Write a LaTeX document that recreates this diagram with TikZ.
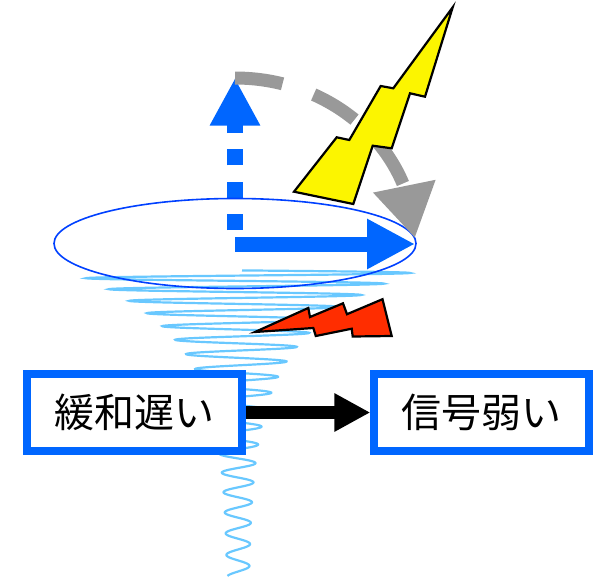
\documentclass[tikz,border=0pt]{standalone}
\usepackage{fontspec}
\setmainfont{Noto Sans CJK JP}
\usepackage{tikz}
\usetikzlibrary{arrows.meta,bending}
\definecolor{arrowblue}{RGB}{0,102,255}
\definecolor{ringblue}{RGB}{0,64,255}
\definecolor{coilblue}{RGB}{105,200,255}
\definecolor{boltyellow}{RGB}{252,245,0}
\definecolor{boltred}{RGB}{255,45,0}
\definecolor{arcgray}{RGB}{153,153,153}

\begin{document}
\begin{tikzpicture}[x=1pt,y=-1pt,line join=miter,node distance=347pt]
\tikzstyle{box}=[draw=arrowblue,line width=8pt,fill=white,minimum width=214.7pt,minimum height=77pt,font=\fontsize{40}{48}\selectfont]
\tikzstyle{coil}=[coilblue,line width=2.2pt]
\tikzstyle{bolt}=[draw=black,line width=2.2pt]
\useasboundingbox (0,0) rectangle (596,578);
\coordinate (o) at (235,244);
\coordinate (zaxis) at (235,78);
\coordinate (xaxis) at (415,244);
% decaying precession signal
\draw[coil] plot[domain=0:18.7,samples=900,variable=\t]
  ({238+4*exp(-\t/4)+(10+158*exp(-(10.19*\t+0.329*\t*\t-2.6)/62))*sin(360*\t)},
   {270.4+10.19*\t+0.329*\t*\t});
\draw[arrowblue,line width=16pt,dash pattern=on 16pt off 16.3pt,-{Triangle[length=47.5pt,width=47pt]}] (235,230) -- (zaxis);
\draw[arrowblue,line width=15pt,-{Triangle[length=48pt,width=47pt]}] (o) -- (xaxis);
\draw[ringblue,line width=1.6pt] (235,243.5) ellipse [x radius=181,y radius=45];
\draw[arcgray,line width=13pt,dash pattern=on 48pt off 33pt,-{Triangle[length=53pt,width=60pt,flex]}]
  (zaxis) arc[start angle=-90,end angle=-1.7,x radius=180,y radius=165];
% lightning
\filldraw[bolt,fill=boltyellow] (452.7,7.3) -- (425,96.7) -- (410,93.3) -- (391.7,148.3) -- (372.7,145.7)
  -- (353.3,204) -- (294,191.7) -- (336.7,137.3) -- (349.3,140) -- (380.7,86) -- (393.3,88.3) -- cycle;
\filldraw[bolt,fill=boltred] (255,332) -- (308.3,308) -- (310,317) -- (343,303.3) -- (347,314.2)
  -- (382.5,299.2) -- (391.7,336) -- (352.7,336.5) -- (351.7,328.7) -- (315.8,336) -- (313.3,328) -- cycle;
\node[box] (relax) at (134.7,412.5) {緩和遅い};
\node[box][right of=relax](signal){信号弱い};
\draw[line width=13pt,-{Triangle[length=36pt,width=36pt]}] (relax) -- (signal);
\end{tikzpicture}
\end{document}
